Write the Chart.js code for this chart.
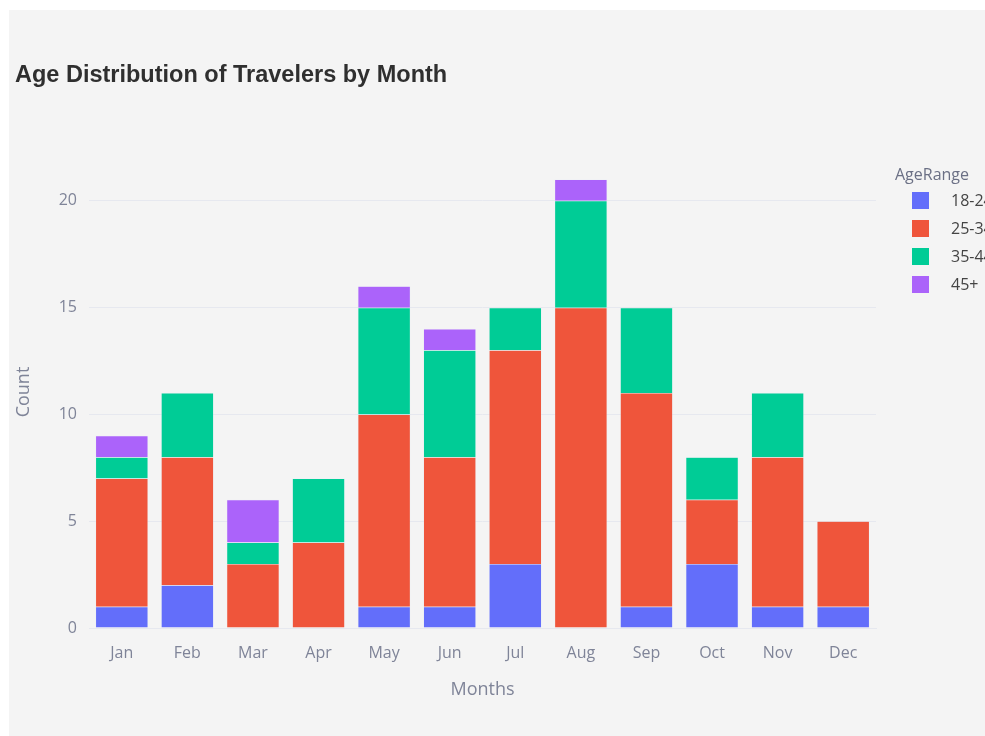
<!DOCTYPE html>
<html>
<head>
<meta charset="utf-8">
<script src="https://cdn.jsdelivr.net/npm/chart.js@4.4.1/dist/chart.umd.min.js"></script>
<style>
  html, body { margin: 0; padding: 0; background: #ffffff; overflow: hidden; }
  #wrap { position: absolute; left: 9px; top: 10px; width: 976px; height: 726px; background: #f4f4f4; }
  #wrap canvas { position: absolute; left: 0; top: 0; }
  #legend { position: absolute; left: 886px; top: 152px; font-family: "Open Sans", sans-serif; }
  #legend .ttl { color: #6b7085; font-size: 16px; height: 24px; line-height: 24px; margin-bottom: 5px; }
  #legend .item { position: relative; height: 28px; white-space: nowrap; }
  #legend .sw { position: absolute; left: 17px; top: 1px; width: 17px; height: 17px; }
  #legend .lb { position: absolute; left: 56px; top: -3px; color: #444; font-size: 16px; line-height: 24px; }
</style>
</head>
<body>
<div id="wrap">
  <canvas id="chart" width="976" height="726"></canvas>
  <div id="legend"></div>
</div>
<script>
// data
const months = ["Jan", "Feb", "Mar", "Apr", "May", "Jun", "Jul", "Aug", "Sep", "Oct", "Nov", "Dec"];
const ageRanges = ["18-24", "25-34", "35-44", "45+"];
const age18 = [1, 2, 0, 0, 1, 1, 3, 0, 1, 3, 1, 1];
const age25 = [6, 6, 3, 4, 9, 7, 10, 15, 10, 3, 7, 4];
const age35 = [1, 3, 1, 3, 5, 5, 2, 5, 4, 2, 3, 0];
const age45 = [1, 0, 2, 0, 1, 1, 0, 1, 0, 0, 0, 0];
const yTicks = [0, 5, 10, 15, 20];

const colors = ["#636efa", "#ef553b", "#00cc96", "#ab63fa"];
const series = [age18, age25, age35, age45];

const tickColor = "#7f8498";
const gridColor = "#e6e8ef";

const ctx = document.getElementById("chart");

new Chart(ctx, {
    type: "bar",
    data: {
        labels: months,
        datasets: series.map(function (vals, i) {
            return {
                label: ageRanges[i],
                data: vals,
                backgroundColor: colors[i],
                borderColor: "rgba(229,236,246,0.8)",
                borderWidth: 0.5,
                barPercentage: 0.8,
                categoryPercentage: 1.0
            };
        })
    },
    options: {
        responsive: false,
        animation: false,
        layout: { padding: { left: 6, right: 109, top: 0, bottom: 28 } },
        plugins: {
            legend: { display: false },
            tooltip: { enabled: false },
            title: {
                display: true,
                text: "Age Distribution of Travelers by Month",
                align: "start",
                color: "#2f2f2f",
                font: { family: "'Liberation Sans', Arial, sans-serif", size: 23.5, weight: "bold", lineHeight: 1.2 },
                padding: { top: 51, bottom: 66.8 }
            }
        },
        scales: {
            x: {
                stacked: true,
                grid: { display: false, drawTicks: false },
                border: { display: true, color: gridColor, width: 1 },
                ticks: { color: tickColor, padding: 16, font: { family: "'Open Sans', sans-serif", size: 16 } },
                title: {
                    display: true, text: "Months", color: tickColor,
                    font: { family: "'Open Sans', sans-serif", size: 18, lineHeight: 1 },
                    padding: { top: 0, bottom: 9 }
                },
                afterFit: function (scale) { scale.height = 80; }
            },
            y: {
                stacked: true,
                min: 0,
                max: 22.1,
                grid: { color: gridColor, drawTicks: false },
                border: { display: false },
                ticks: { color: tickColor, padding: 12, stepSize: 5, font: { family: "'Open Sans', sans-serif", size: 16 } },
                afterBuildTicks: function (axis) {
                    axis.ticks = yTicks.map(function (v) { return { value: v }; });
                },
                title: {
                    display: true, text: "Count", color: tickColor,
                    font: { family: "'Open Sans', sans-serif", size: 18, lineHeight: 1 },
                    padding: { top: 0, bottom: 0 }
                },
                afterFit: function (scale) { scale.width = 74; }
            }
        }
    }
});

// legend drawn as html next to the plot
const legendEl = document.getElementById("legend");
let html = '<div class="ttl">AgeRange</div>';
ageRanges.forEach(function (name, i) {
    html += '<div class="item"><span class="sw" style="background:' + colors[i] + '"></span><span class="lb">' + name + '</span></div>';
});
legendEl.innerHTML = html;
</script>
</body>
</html>
